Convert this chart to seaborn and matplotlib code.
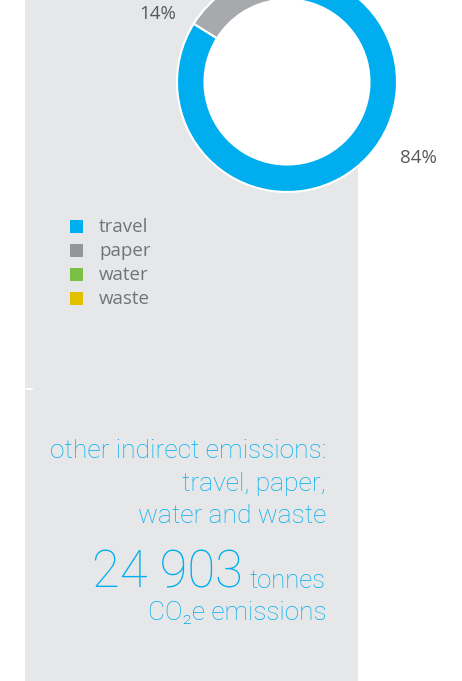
import numpy as np
import matplotlib
matplotlib.use("Agg")
import matplotlib.pyplot as plt
import seaborn as sns
from matplotlib.patches import Rectangle, Circle

# data
categories = ['travel', 'paper', 'water', 'waste']
shares = [84, 14, 1, 1]
colors = ['#00AEEF', '#A7A9AC', '#7AC143', '#E2C000']
legend_colors = ['#00AEEF', '#939598', '#7AC143', '#E2C000']
# ring order as drawn (clockwise from the top)
ring_order = ['travel', 'paper', 'waste', 'water']
shown_labels = {'travel': '84%', 'paper': '14%'}

total_value = '24 903'
headline = ['other indirect emissions:', 'travel, paper,', 'water and waste']

sns.set_style('white')
plt.rcParams['font.family'] = ['Open Sans', 'DejaVu Sans']

W, H = 462, 681
fig = plt.figure(figsize=(W / 100, H / 100), dpi=100)
fig.patch.set_facecolor('white')

# background panel in pixel coordinates
bg = fig.add_axes([0, 0, 1, 1])
bg.set_xlim(0, W)
bg.set_ylim(H, 0)
bg.axis('off')
bg.add_patch(Rectangle((25, 0), 333, H, facecolor='#E6E7E8', edgecolor='none'))
bg.plot([26, 32], [389, 389], color='white', lw=1.5)

# donut
cx, cy, R = 287, 82, 110
half = 120
pie_ax = fig.add_axes([(cx - half) / W, (H - cy - half) / H, 2 * half / W, 2 * half / H])
vals = [shares[categories.index(c)] for c in ring_order]
cols = [colors[categories.index(c)] for c in ring_order]
wedges, _ = pie_ax.pie(vals, colors=cols, startangle=90.4, counterclock=False,
                       radius=1.0, wedgeprops=dict(width=0.25, edgecolor='white', linewidth=1.5))
for w in wedges:
    w.set_clip_on(False)
pie_ax.add_patch(Circle((0, 0), 0.75, facecolor='white', edgecolor='none', zorder=0))
pie_ax.set_xlim(-half / R, half / R)
pie_ax.set_ylim(-half / R, half / R)
pie_ax.set_aspect('equal')
pie_ax.axis('off')

label_pos = {'84%': (418, 158), '14%': (158, 14)}
for name, txt in shown_labels.items():
    x, y = label_pos[txt]
    bg.text(x, y, txt, ha='center', va='center', fontsize=13.5, color='#58595B')

# legend
for i, (name, c) in enumerate(zip(categories, legend_colors)):
    yc = 226 + i * 24
    bg.add_patch(Rectangle((70, yc - 6.5), 13, 13, facecolor=c, edgecolor='none'))
    bg.text(99, yc + 6, name, ha='left', va='baseline', fontsize=13.5, color='#737477')

# headline text
blue = '#00AEEF'
hfam = ['Roboto', 'DejaVu Sans']
for i, line in enumerate(headline):
    bg.text(326, 458 + i * 32.5, line, ha='right', va='baseline', fontsize=19.0,
            color=blue, family=hfam, weight='light')
bg.text(326, 588, 'tonnes', ha='right', va='baseline', fontsize=18.5,
        color=blue, family=hfam, weight='light')
bg.text(243, 588, total_value, ha='right', va='baseline', fontsize=36.5,
        color=blue, family=hfam, weight='light')
bg.text(326, 620, 'CO\u2082e emissions', ha='right', va='baseline', fontsize=18.8,
        color=blue, family=hfam, weight='light')

fig.savefig('out.png', dpi=100)
